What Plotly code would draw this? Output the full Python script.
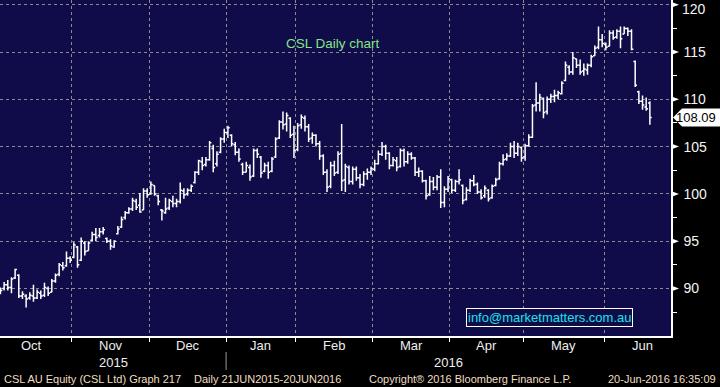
import pandas as pd
import plotly.graph_objects as go

# ---------------- data ----------------
holidays = ["2015-12-25", "2015-12-28", "2016-01-01", "2016-01-26",
            "2016-03-25", "2016-03-28", "2016-04-25", "2016-06-13"]
start_date = "2015-10-05"
end_date = "2016-06-20"

opens = [90.0, 90.0, 90.4, 90.1, 91.1, 91.4, 89.2, 89.2, 89.0, 89.2,
         89.0, 89.5, 89.3, 90.0, 89.6, 90.8, 91.5, 92.4, 92.4, 93.2,
         93.3, 94.4, 93.0, 94.8, 94.0, 95.1, 95.7, 95.6, 96.0, 95.3,
         95.0, 94.4, 95.8, 96.5, 97.5, 98.0, 98.4, 99.2, 98.8, 98.3,
         100.3, 100.0, 100.9, 99.8, 98.3, 98.0, 98.5, 99.2, 99.0, 99.2,
         100.3, 100.0, 100.4, 101.2, 102.3, 103.4, 103.1, 103.6, 104.8, 103.2,
         104.4, 105.8, 106.5, 106.2, 105.2, 104.4, 103.1, 102.3, 102.8, 101.9,
         104.6, 103.9, 102.4, 103.0, 102.4, 103.9, 105.9, 107.6, 107.4, 108.0,
         106.3, 104.7, 107.3, 108.0, 107.1, 105.9, 106.2, 105.3, 104.0, 102.3,
         100.8, 103.0, 102.3, 104.3, 101.5, 102.8, 101.3, 102.6, 101.7, 101.0,
         102.1, 102.3, 102.6, 103.2, 104.2, 105.0, 104.3, 103.0, 103.5, 102.9,
         104.6, 103.4, 104.2, 103.8, 102.3, 102.4, 101.4, 99.9, 101.3, 100.7,
         101.8, 99.1, 100.5, 101.5, 100.4, 101.3, 100.9, 99.4, 100.4, 101.4,
         101.0, 100.2, 99.8, 100.4, 99.6, 100.9, 101.6, 103.2, 103.7, 104.0,
         105.0, 104.3, 104.9, 103.9, 105.1, 106.0, 109.4, 109.6, 110.1, 108.7,
         110.0, 110.3, 110.4, 110.6, 112.0, 113.4, 112.9, 114.3, 113.6, 113.0,
         113.1, 113.6, 114.6, 115.5, 116.3, 115.8, 115.6, 117.0, 116.6, 117.2,
         116.9, 117.5, 117.2, 114.0, 110.8, 109.8, 109.2, 109.6]
highs = [90.1, 90.7, 90.9, 91.2, 92.1, 91.5, 89.7, 89.4, 89.6, 90.4,
         89.9, 89.8, 90.6, 90.2, 91.0, 91.6, 92.7, 92.8, 93.9, 93.4,
         94.9, 94.5, 95.4, 95.0, 95.0, 96.0, 96.4, 96.4, 96.5, 95.4,
         95.2, 95.1, 96.6, 97.6, 98.2, 98.6, 99.6, 99.5, 100.1, 100.6,
         100.6, 101.3, 100.9, 99.9, 98.4, 99.6, 99.5, 99.8, 99.5, 101.2,
         100.6, 100.6, 101.0, 102.4, 103.6, 103.9, 103.9, 105.6, 105.2, 104.5,
         106.0, 106.9, 107.2, 106.3, 105.5, 104.8, 103.3, 103.4, 103.1, 104.8,
         104.8, 104.0, 103.3, 103.4, 103.9, 106.0, 107.8, 108.7, 108.6, 108.1,
         107.2, 107.5, 108.4, 108.3, 107.4, 106.5, 106.3, 105.6, 104.2, 102.6,
         103.4, 103.5, 104.5, 107.4, 103.2, 103.0, 102.9, 102.9, 102.1, 102.4,
         102.7, 102.9, 103.6, 104.6, 105.5, 105.2, 104.4, 103.9, 103.9, 104.8,
         104.8, 104.5, 104.4, 103.9, 102.8, 102.5, 101.5, 101.9, 101.8, 102.0,
         102.6, 100.8, 101.9, 101.6, 101.5, 102.6, 101.0, 100.7, 101.6, 102.0,
         101.2, 100.5, 100.9, 100.5, 101.0, 101.7, 103.4, 104.2, 104.3, 105.4,
         105.6, 105.4, 105.0, 105.3, 106.3, 109.5, 111.8, 110.6, 110.2, 110.3,
         110.6, 111.0, 110.9, 111.9, 114.0, 113.6, 115.0, 114.3, 114.2, 113.8,
         113.8, 114.7, 115.7, 117.7, 116.9, 116.0, 117.3, 117.3, 117.4, 117.7,
         117.7, 117.6, 117.4, 114.1, 110.9, 110.4, 110.2, 109.8]
lows = [89.4, 89.8, 89.8, 89.5, 91.0, 89.0, 88.9, 88.0, 88.8, 88.6,
        88.9, 88.9, 89.1, 89.2, 89.6, 90.6, 91.3, 91.9, 92.3, 92.7,
        93.2, 92.2, 92.9, 93.5, 94.0, 95.0, 95.0, 95.4, 95.7, 94.8,
        94.1, 94.3, 95.7, 96.4, 97.3, 97.9, 98.2, 98.3, 98.0, 98.3,
        99.6, 99.9, 99.8, 98.8, 97.2, 97.9, 98.3, 98.6, 98.6, 99.0,
        99.5, 99.8, 100.2, 101.1, 102.0, 102.5, 102.9, 103.5, 102.3, 102.9,
        104.3, 105.4, 105.9, 105.0, 104.1, 103.4, 102.0, 102.3, 101.4, 101.8,
        103.8, 101.7, 102.3, 101.6, 102.3, 103.8, 105.8, 106.8, 106.6, 105.9,
        103.8, 104.5, 106.9, 106.6, 105.5, 105.3, 105.0, 103.6, 102.0, 100.2,
        100.6, 101.9, 102.1, 100.3, 100.2, 101.0, 101.0, 101.4, 100.6, 100.8,
        101.5, 102.0, 102.4, 103.1, 104.0, 103.6, 102.6, 102.9, 102.4, 102.8,
        102.9, 103.2, 103.6, 101.9, 101.8, 101.2, 99.4, 99.8, 100.4, 100.4,
        98.5, 98.6, 100.2, 100.1, 100.2, 101.0, 98.9, 99.3, 100.2, 100.8,
        100.0, 99.4, 99.6, 99.2, 99.5, 100.8, 101.5, 103.0, 103.5, 103.9,
        103.8, 104.0, 103.4, 103.5, 105.0, 105.9, 108.7, 108.7, 108.0, 108.4,
        109.6, 109.7, 110.0, 110.5, 111.9, 112.6, 112.6, 113.3, 112.6, 112.5,
        112.6, 113.4, 114.6, 115.3, 115.5, 115.2, 115.6, 116.3, 116.4, 115.4,
        116.9, 116.7, 115.2, 111.3, 109.5, 108.9, 108.8, 107.3]
closes = [89.8, 90.4, 90.1, 91.0, 92.0, 89.2, 89.4, 88.9, 89.3, 89.0,
          89.6, 89.2, 90.1, 89.5, 90.8, 91.4, 92.5, 92.2, 93.2, 93.0,
          94.6, 92.5, 95.0, 93.9, 94.8, 95.7, 95.4, 96.0, 96.2, 95.0,
          94.5, 95.0, 96.3, 97.3, 98.0, 98.4, 99.3, 98.6, 98.1, 100.3,
          99.9, 101.0, 100.0, 99.2, 98.2, 98.4, 99.3, 99.0, 99.2, 100.4,
          99.9, 100.4, 100.8, 102.3, 103.5, 103.0, 103.6, 105.4, 102.8, 104.2,
          105.8, 106.5, 107.0, 105.3, 104.4, 103.7, 102.3, 103.0, 101.8, 104.6,
          104.2, 102.2, 103.0, 102.3, 103.7, 105.8, 107.6, 107.3, 108.3, 106.2,
          104.6, 107.2, 108.1, 107.1, 105.8, 106.2, 105.3, 104.0, 102.3, 100.7,
          103.0, 102.2, 104.2, 101.4, 102.9, 101.3, 102.6, 101.7, 101.0, 102.1,
          102.3, 102.7, 103.2, 104.2, 105.0, 104.3, 103.0, 103.6, 102.8, 104.6,
          103.4, 104.2, 103.8, 102.3, 102.4, 101.4, 99.8, 101.3, 100.7, 101.8,
          99.1, 100.5, 101.6, 100.4, 101.3, 101.5, 99.3, 100.4, 101.4, 101.0,
          100.2, 99.6, 100.6, 99.5, 100.8, 101.5, 103.2, 103.6, 104.0, 105.0,
          104.3, 105.0, 103.8, 105.1, 106.0, 109.3, 109.6, 110.2, 108.6, 110.0,
          110.3, 110.4, 110.7, 111.7, 113.6, 112.9, 114.4, 113.6, 112.9, 113.2,
          113.6, 114.5, 115.4, 116.3, 115.9, 115.5, 117.0, 116.5, 117.2, 116.4,
          117.5, 117.2, 115.3, 111.5, 109.8, 109.4, 109.0, 108.09]

price_ticks = [90, 95, 100, 105, 110, 115, 120]
minor_ticks = [87.5, 92.5, 97.5, 102.5, 107.5, 112.5, 117.5]
title_text = "CSL Daily chart"
email_text = "info@marketmatters.com.au"
footer_left = "CSL AU Equity (CSL Ltd) Graph 217"
footer_range = "Daily 21JUN2015-20JUN2016"
footer_copy = "Copyright\u00ae 2016 Bloomberg Finance L.P."
footer_stamp = "20-Jun-2016 16:35:09"

# ---------------- trading-day axis ----------------
calendar = [d for d in pd.bdate_range("2015-10-01", "2016-06-30")
            if d.strftime("%Y-%m-%d") not in holidays]
first = calendar.index(pd.Timestamp(start_date))
last = calendar.index(pd.Timestamp(end_date))
dates = calendar[first:last + 1]
xidx = [k - first for k in range(first, last + 1)]

months = {}
for k, d in enumerate(calendar):
    key = (d.year, d.month)
    months.setdefault(key, []).append(k - first)
month_bounds = {key: (v[0] - 0.5, v[-1] + 0.5) for key, v in months.items()}
boundaries = [b[0] for b in month_bounds.values()]

W, H = 720, 387
ML, MR, MT, MB = 0, 49, 0, 51
PW, PH = W - ML - MR, H - MT - MB
xr = [-0.12, 182.76]
yr = [84.98, 120.5]

BG = "#0f0c49"
GRID = "#8c8c8c"
FONT = "Liberation Sans"
TICKFONT = dict(family=FONT, size=14, color="#f4f4f4")

fig = go.Figure()
fig.add_trace(go.Ohlc(
    x=xidx, open=opens, high=highs, low=lows, close=closes,
    increasing=dict(line=dict(color="white", width=1.5)),
    decreasing=dict(line=dict(color="white", width=1.5)),
    tickwidth=0.5,
    text=[d.strftime("%d %b %Y") for d in dates],
    hoverinfo="text+y",
    showlegend=False,
))

annotations = []
shapes = []

# month labels
for (yy, mm), (b0, b1) in month_bounds.items():
    c = (b0 + b1) / 2
    if xr[0] <= c <= xr[1]:
        annotations.append(dict(
            x=c, y=-10 / PH, xref="x", yref="paper",
            text=pd.Timestamp(yy, mm, 1).strftime("%b"), showarrow=False,
            font=dict(family=FONT, size=13, color="#eeeeee"),
            xanchor="center", yanchor="middle"))

# year labels and separator
year_split = month_bounds[(2016, 1)][0]
for label, c in (("2015", (xr[0] + year_split) / 2), ("2016", (year_split + xr[1]) / 2)):
    annotations.append(dict(
        x=c, y=-26 / PH, xref="x", yref="paper", text=label, showarrow=False,
        font=dict(family=FONT, size=13, color="#eeeeee"),
        xanchor="center", yanchor="middle"))
shapes.append(dict(type="line", xref="x", yref="paper",
                   x0=year_split, x1=year_split, y0=-16 / PH, y1=-34 / PH,
                   line=dict(color="#9a9a9a", width=1)))

# right axis triangle markers
for v in price_ticks:
    h = 3 / PH * (yr[1] - yr[0])
    shapes.append(dict(type="path", xref="paper", yref="y",
                       path=f"M 1.0,{v + h} L {1 + 8 / PW},{v} L 1.0,{v - h} Z",
                       fillcolor="white", line=dict(color="white", width=0)))

# top tick label (kept inside the page, as in the reference)
top_tick = price_ticks[-1]
annotations.append(dict(x=1 + 9 / PW, y=top_tick, xref="paper", yref="y",
                        text=str(top_tick), showarrow=False, font=TICKFONT,
                        xanchor="left", yanchor="middle", yshift=-4))

# last price box
lastv = closes[-1]
hh = 9 / PH * (yr[1] - yr[0])
p0, p1, p2 = 1 + 2 / PW, 1 + 11 / PW, 1 + 50 / PW
shapes.append(dict(type="path", xref="paper", yref="y",
                   path=f"M {p0},{lastv} L {p1},{lastv + hh} L {p2},{lastv + hh} "
                        f"L {p2},{lastv - hh} L {p1},{lastv - hh} Z",
                   fillcolor="white", line=dict(color="white", width=0)))
annotations.append(dict(x=1 + 47 / PW, y=lastv, xref="paper", yref="y",
                        text=f"{lastv:.2f}", showarrow=False,
                        font=dict(family=FONT, size=13, color="black"),
                        xanchor="right", yanchor="middle"))

# title
annotations.append(dict(x=333 / PW, y=1 - 44 / PH, xref="paper", yref="paper",
                        text=title_text, showarrow=False,
                        font=dict(family=FONT, size=13.5, color="#86e486"),
                        xanchor="center", yanchor="middle"))

# email box
annotations.append(dict(x=549.5 / PW, y=1 - 317.5 / PH, xref="paper", yref="paper",
                        text=email_text, showarrow=False,
                        font=dict(family=FONT, size=13, color="#19e3e8"),
                        bordercolor="white", borderwidth=1, borderpad=1,
                        bgcolor=BG, xanchor="center", yanchor="middle"))

# footer
fy = -43 / PH
ffont = dict(family=FONT, size=11, color="#f2dfc0")
annotations += [
    dict(x=2 / PW, y=fy, xref="paper", yref="paper", text=footer_left,
         showarrow=False, font=ffont, xanchor="left", yanchor="middle"),
    dict(x=192 / PW, y=fy, xref="paper", yref="paper", text=footer_range,
         showarrow=False, font=ffont, xanchor="left", yanchor="middle"),
    dict(x=367 / PW, y=fy, xref="paper", yref="paper", text=footer_copy,
         showarrow=False, font=ffont, xanchor="left", yanchor="middle"),
    dict(x=718 / PW, y=fy, xref="paper", yref="paper", text=footer_stamp,
         showarrow=False, font=ffont, xanchor="right", yanchor="middle"),
]

fig.update_layout(
    width=W, height=H, autosize=False,
    margin=dict(l=ML, r=MR, t=MT, b=MB, pad=0),
    paper_bgcolor="black", plot_bgcolor=BG,
    font=dict(family=FONT, color="white"),
    showlegend=False,
    annotations=annotations, shapes=shapes,
    xaxis=dict(
        type="linear", range=xr, rangeslider=dict(visible=False),
        tickvals=boundaries, showticklabels=False,
        ticks="outside", ticklen=4, tickcolor="white", tickwidth=1,
        showgrid=True, gridcolor=GRID, gridwidth=1, griddash="3px,3px",
        showline=True, linecolor="white", linewidth=1.5,
        zeroline=False, fixedrange=True,
    ),
    yaxis=dict(
        side="right", range=yr, tickvals=price_ticks,
        ticktext=[str(v) if v != top_tick else "" for v in price_ticks],
        ticks="", showticklabels=True, ticklabelstandoff=8,
        tickfont=TICKFONT,
        showgrid=True, gridcolor=GRID, gridwidth=1, griddash="3px,3px",
        showline=True, linecolor="white", linewidth=1.5,
        zeroline=False, fixedrange=True,
        minor=dict(tickvals=minor_ticks, ticks="outside", ticklen=4,
                   tickcolor="white", tickwidth=1, showgrid=False),
    ),
)

fig.write_html("out.html", config={"displayModeBar": False},
               post_script="document.body.style.margin='0';document.body.style.background='black';")
